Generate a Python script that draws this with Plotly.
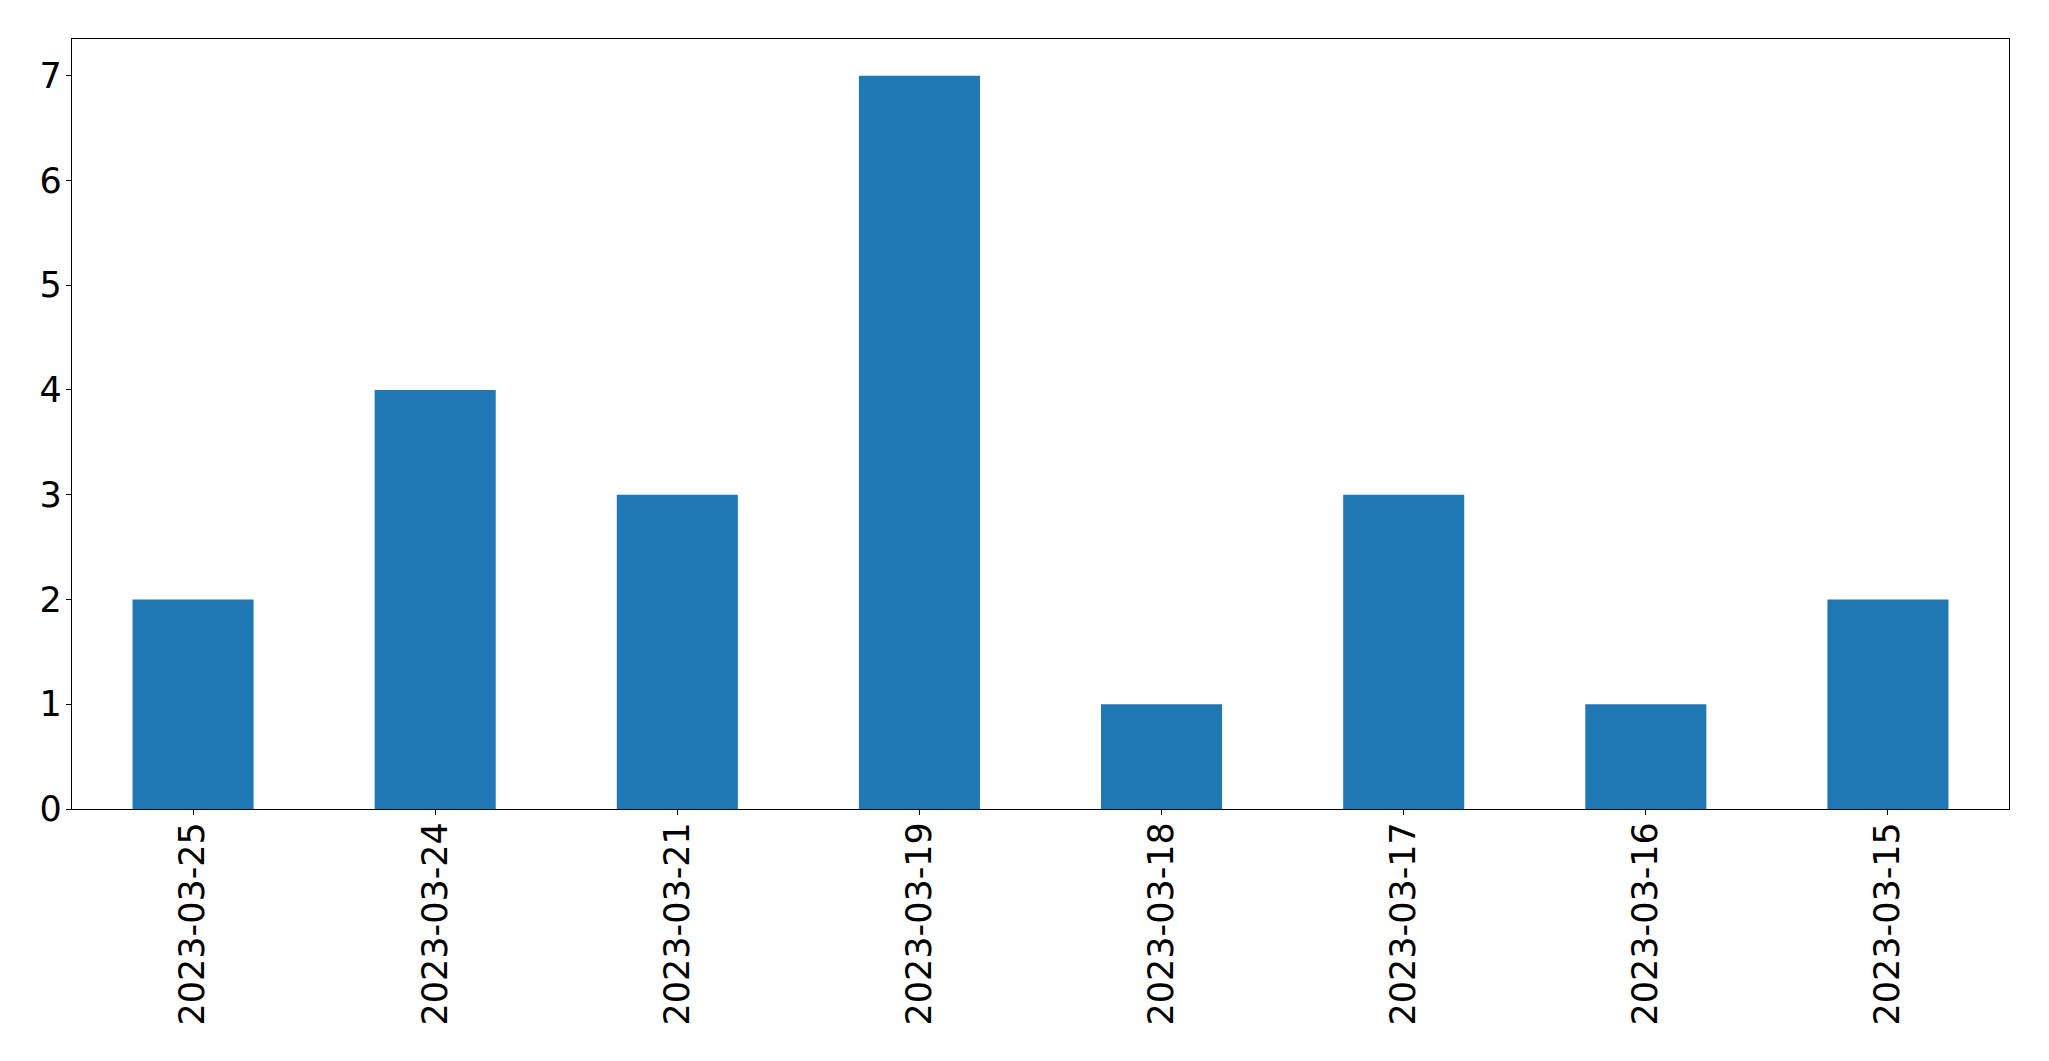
import plotly.graph_objects as go

dates = ["2023-03-25", "2023-03-24", "2023-03-21", "2023-03-19",
         "2023-03-18", "2023-03-17", "2023-03-16", "2023-03-15"]
counts = [2, 4, 3, 7, 1, 3, 1, 2]
y_ticks = [0, 1, 2, 3, 4, 5, 6, 7]

font = dict(family="DejaVu Sans", size=35, color="black")

fig = go.Figure(go.Bar(x=dates, y=counts, marker=dict(color="#1f77b4", line=dict(width=0))))

fig.update_layout(
    width=2049, height=1061,
    margin=dict(l=72, r=40, t=39, b=252, pad=0),
    paper_bgcolor="white", plot_bgcolor="white",
    bargap=0.5, showlegend=False, font=font,
)
fig.update_xaxes(
    type="category", range=[-0.5, 7.5], tickangle=-90,
    showline=True, mirror=True, linecolor="black", linewidth=1.3,
    ticks="outside", ticklen=5, tickwidth=1.3, tickcolor="black",
    showgrid=False, zeroline=False, tickfont=font, ticklabelstandoff=-7,
)
fig.update_yaxes(
    range=[0, 7.35], tickvals=y_ticks,
    showline=True, mirror=True, linecolor="black", linewidth=1.3,
    ticks="outside", ticklen=5, tickwidth=1.3, tickcolor="black",
    showgrid=False, zeroline=False, tickfont=font, ticklabelstandoff=-3,
)

fig.write_html("out.html", config={"displayModeBar": False},
               post_script="document.body.style.margin='0';document.body.style.overflow='hidden';")
